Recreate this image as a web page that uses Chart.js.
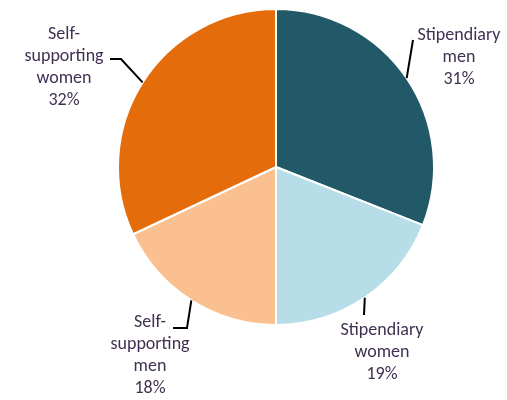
<!DOCTYPE html>
<html>
<head>
<meta charset="utf-8">
<script src="https://cdn.jsdelivr.net/npm/chart.js@4/dist/chart.umd.min.js"></script>
<style>
  html, body { margin: 0; padding: 0; background: #fff; }
  #wrap { width: 507px; height: 400px; }
</style>
</head>
<body>
<div id="wrap"><canvas id="pie"></canvas></div>
<script>
// chart data
var categories = ["Stipendiary men", "Stipendiary women", "Self-supporting men", "Self-supporting women"];
var shares = [31, 19, 18, 32];
var labelLines = [
    ["Stipendiary", "men"],
    ["Stipendiary", "women"],
    ["Self-", "supporting", "men"],
    ["Self-", "supporting", "women"]
];
var colors = ["#215968", "#B7DEE8", "#FAC090", "#E46C0A"];

// where each label sits (text centre x, first line y) and the leader path to it
var labelSpots = [
    { x: 459, y: 35, path: [[413, 40]] },
    { x: 382, y: 330, path: [[364, 315]] },
    { x: 150, y: 322, path: [[187, 328], [173, 328]] },
    { x: 64, y: 34, path: [[121, 59], [110, 59]] }
];

var calloutPlugin = {
    id: "callouts",
    afterDatasetsDraw: function(chart) {
        var ctx = chart.ctx;
        var meta = chart.getDatasetMeta(0);
        ctx.save();
        meta.data.forEach(function(arc, i) {
            var p = arc.getProps(["x", "y", "startAngle", "endAngle", "outerRadius"], true);
            var mid = (p.startAngle + p.endAngle) / 2;
            var sx = p.x + Math.cos(mid) * p.outerRadius;
            var sy = p.y + Math.sin(mid) * p.outerRadius;
            var spot = labelSpots[i];
            //leader line
            ctx.strokeStyle = "#000";
            ctx.lineWidth = 2;
            ctx.beginPath();
            ctx.moveTo(sx, sy);
            spot.path.forEach(function(pt) { ctx.lineTo(pt[0], pt[1]); });
            ctx.stroke();
            //text
            ctx.fillStyle = "#403152";
            ctx.font = "18px Carlito, Lato, 'Open Sans', sans-serif";
            ctx.textAlign = "center";
            ctx.textBaseline = "middle";
            var lines = labelLines[i].concat([shares[i] + "%"]);
            lines.forEach(function(t, k) {
                ctx.fillText(t, spot.x, spot.y + k * 22);
            });
        });
        ctx.restore();
    }
};

var chart = new Chart(document.getElementById("pie"), {
    type: "pie",
    data: {
        labels: categories,
        datasets: [{
            data: shares,
            backgroundColor: colors,
            borderColor: "#ffffff",
            borderWidth: 2
        }]
    },
    options: {
        responsive: true,
        maintainAspectRatio: false,
        animation: false,
        layout: { padding: { top: 8, bottom: 74, left: 117, right: 72 } },
        plugins: {
            legend: { display: false },
            tooltip: { enabled: false }
        }
    },
    plugins: [calloutPlugin]
});
</script>
</body>
</html>
